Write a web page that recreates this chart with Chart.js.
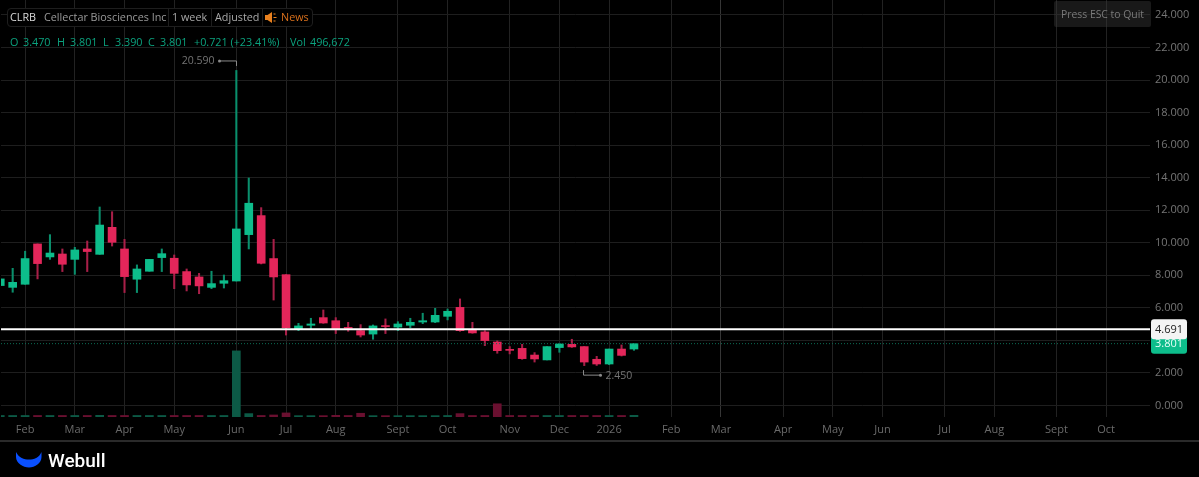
<!DOCTYPE html>
<html>
<head>
<meta charset="utf-8">
<title>CLRB weekly chart</title>
<script src="https://cdn.jsdelivr.net/npm/chart.js@4/dist/chart.umd.min.js"></script>
<style>
  html, body { margin: 0; padding: 0; background: #000; }
  body { width: 1199px; height: 477px; overflow: hidden; position: relative; font-family: "Open Sans", sans-serif; font-size: 10.8px; }
  canvas { position: absolute; left: 0; top: 0; }
  .t { position: absolute; white-space: nowrap; line-height: 16px; }
  #legendBox { position: absolute; left: 7px; top: 8px; width: 304px; height: 17px; border: 1px solid #1e1e1e; border-radius: 4px; background: #000; }
  .sep { position: absolute; top: 9px; width: 1px; height: 17px; background: #1e1e1e; }
  #esc { position: absolute; left: 1054px; top: 1px; width: 97px; height: 26px; background: rgba(60,60,60,0.42); border-radius: 2px; color: #7a7a7a; text-align: center; line-height: 26px; font-size: 10.4px; }
  #footerLine { position: absolute; left: 0; top: 440px; width: 1199px; height: 2px; background: #2a2a2a; }
  #brand { position: absolute; left: 48px; top: 447px; color: #fff; font-family: Roboto, sans-serif; font-size: 19px; font-weight: 500; line-height: 27px; }
</style>
</head>
<body>
<canvas id="chart" width="1199" height="477"></canvas>

<div id="legendBox"></div>
<div class="sep" style="left:168px"></div>
<div class="sep" style="left:211px"></div>
<div class="sep" style="left:262px"></div>
<span class="t" style="left:10px;top:9px;color:#d8d8d8">CLRB</span>
<span class="t" style="left:44px;top:9px;color:#9a9a9a">Cellectar Biosciences Inc</span>
<span class="t" style="left:172px;top:9px;color:#a8a8a8">1 week</span>
<span class="t" style="left:215px;top:9px;color:#a8a8a8">Adjusted</span>
<svg style="position:absolute;left:265px;top:12px" width="12" height="11" viewBox="0 0 12 11">
  <path d="M0 3h2.5L7 0v11L2.5 8H0z" fill="#e8801e"/>
  <path d="M8.5 2h2M8.500 5.500h3M8.500 9h2" stroke="#e8801e" stroke-width="1"/>
</svg>
<span class="t" style="left:281px;top:9px;color:#d9701c">News</span>

<span class="t" style="left:10px;top:34px;color:#0ba37f">O</span>
<span class="t" style="left:23px;top:34px;color:#0ba37f">3.470</span>
<span class="t" style="left:57px;top:34px;color:#0ba37f">H</span>
<span class="t" style="left:70px;top:34px;color:#0ba37f">3.801</span>
<span class="t" style="left:103px;top:34px;color:#0ba37f">L</span>
<span class="t" style="left:115px;top:34px;color:#0ba37f">3.390</span>
<span class="t" style="left:148px;top:34px;color:#0ba37f">C</span>
<span class="t" style="left:160px;top:34px;color:#0ba37f">3.801</span>
<span class="t" style="left:194px;top:34px;color:#0ba37f">+0.721 (+23.41%)</span>
<span class="t" style="left:290px;top:34px;color:#0ba37f">Vol</span>
<span class="t" style="left:310px;top:34px;color:#0ba37f">496,672</span>

<div id="esc">Press ESC to Quit</div>
<div id="footerLine"></div>
<svg style="position:absolute;left:16px;top:451px" width="26" height="17" viewBox="0 0 26 17">
  <path d="M0 1C3 7 8 8.500 13 8.500S23 7 25.500 1V6C25.500 12 19 16.500 13 16.500S0 12 0 6z" fill="#0a50ff"/>
</svg>
<div id="brand">Webull</div>

<script>
// weekly candles, oldest first
const opens = [7.37, 7.26, 7.45, 9.93, 9.13, 9.31, 8.98, 9.62, 9.29, 10.95, 9.62, 7.76, 8.25, 9.09, 9.05, 8.23, 7.90, 7.26, 7.51, 7.65, 10.50, 11.67, 9.03, 8.04, 4.70, 4.93, 5.40, 5.21, 4.80, 4.60, 4.39, 4.91, 4.82, 4.93, 5.13, 5.13, 5.48, 6.03, 4.64, 4.52, 3.90, 3.45, 3.51, 3.10, 2.80, 3.56, 3.76, 3.62, 2.84, 2.55, 3.47, 3.47];
const highs = [7.78, 8.43, 9.48, 9.93, 10.50, 9.62, 9.72, 10.11, 12.20, 11.91, 10.21, 8.64, 8.98, 9.62, 9.25, 8.39, 8.12, 8.25, 8.02, 20.59, 13.98, 12.16, 10.21, 8.04, 5.05, 5.36, 5.87, 5.40, 5.11, 4.97, 4.95, 5.32, 5.15, 5.36, 5.67, 5.97, 5.93, 6.55, 5.11, 4.60, 3.97, 3.62, 3.76, 3.25, 3.62, 3.82, 4.07, 3.62, 3.02, 3.47, 3.72, 3.801];
const lows = [7.37, 6.96, 7.45, 7.78, 8.98, 8.23, 8.06, 8.23, 9.29, 9.80, 6.94, 6.94, 8.25, 8.23, 7.18, 7.04, 6.87, 7.18, 7.22, 7.65, 9.62, 8.70, 6.48, 4.33, 4.60, 4.72, 5.05, 4.42, 4.56, 4.21, 4.07, 4.42, 4.60, 4.78, 5.03, 5.09, 5.26, 4.56, 4.44, 3.68, 3.21, 3.17, 2.84, 2.67, 2.80, 3.27, 3.57, 2.45, 2.46, 2.51, 3.04, 3.39];
const closes = [7.78, 7.57, 9.03, 8.72, 9.37, 8.68, 9.56, 9.46, 11.09, 10.03, 7.92, 8.39, 8.98, 9.33, 8.12, 7.41, 7.35, 7.49, 7.67, 10.85, 12.43, 8.74, 7.90, 4.78, 4.89, 5.01, 5.07, 4.70, 4.74, 4.33, 4.89, 4.85, 5.01, 5.11, 5.21, 5.54, 5.79, 4.60, 4.46, 3.99, 3.37, 3.39, 2.88, 2.86, 3.62, 3.78, 3.60, 2.67, 2.55, 3.47, 3.08, 3.801];
const volumes = [450000, 450000, 450000, 450000, 450000, 450000, 450000, 450000, 500000, 450000, 450000, 450000, 450000, 450000, 450000, 450000, 450000, 450000, 450000, 19500000, 1000000, 450000, 600000, 1200000, 400000, 400000, 400000, 500000, 450000, 1100000, 400000, 400000, 400000, 400000, 400000, 400000, 450000, 1000000, 450000, 450000, 3900000, 450000, 450000, 450000, 450000, 450000, 450000, 450000, 450000, 450000, 450000, 496672];

const monthTicks = [2, 6, 10, 14, 19, 23, 27, 32, 36, 41, 45, 49, 54, 58, 63, 67, 71, 76, 80, 85, 89];
const monthLabels = ['Feb', 'Mar', 'Apr', 'May', 'Jun', 'Jul', 'Aug', 'Sept', 'Oct', 'Nov', 'Dec', '2026', 'Feb', 'Mar', 'Apr', 'May', 'Jun', 'Jul', 'Aug', 'Sept', 'Oct'];
const priceTicks = [0, 2, 4, 6, 8, 10, 12, 14, 16, 18, 20, 22, 24];

const drawnLevel = 4.691;
const lastPrice = 3.801;
const highMark = { index: 19, price: 20.59, label: '20.590' };
const lowMark = { index: 47, price: 2.45, label: '2.450' };

const UP = '#0dbd8b';
const DOWN = '#e3265a';
const X_MIN = 0.06;
const X_MAX = 92.53;

const isUp = opens.map((o, i) => closes[i] >= o);
const pick = (up, down) => isUp.map(u => (u ? up : down));
const xy = values => values.map((y, x) => ({ x, y }));

// level boxes and the high/low callouts
const overlayPlugin = {
  id: 'overlay',
  afterDraw(chart) {
    const { ctx, scales } = chart;
    const yS = scales.y;
    const xS = scales.x;
    ctx.save();
    ctx.font = '11px "Open Sans"';
    ctx.textBaseline = 'middle';
    ctx.textAlign = 'center';

    const lastY = yS.getPixelForValue(lastPrice);
    ctx.fillStyle = UP;
    ctx.beginPath();
    ctx.roundRect(1151, lastY - 10, 36, 20, 3);
    ctx.fill();
    ctx.fillStyle = '#e8fff8';
    ctx.fillText(lastPrice.toFixed(3), 1169, lastY + 0.5);

    const levelY = yS.getPixelForValue(drawnLevel);
    ctx.fillStyle = '#f4f4f4';
    ctx.beginPath();
    ctx.roundRect(1151, levelY - 10, 36, 20, 3);
    ctx.fill();
    ctx.fillStyle = '#222';
    ctx.fillText(drawnLevel.toFixed(3), 1169, levelY + 0.5);

    ctx.font = '10.5px "Open Sans"';
    ctx.strokeStyle = '#8a8a8a';
    ctx.fillStyle = '#8a8a8a';
    ctx.lineWidth = 1;

    const hx = Math.round(xS.getPixelForValue(highMark.index)) + 0.5;
    const hy = yS.getPixelForValue(highMark.price) - 9.5;
    ctx.beginPath();
    ctx.moveTo(hx, hy + 5);
    ctx.lineTo(hx, hy);
    ctx.lineTo(hx - 17, hy);
    ctx.stroke();
    ctx.beginPath();
    ctx.arc(hx - 17, hy, 1.5, 0, Math.PI * 2);
    ctx.fill();
    ctx.fillStyle = '#747474';
    ctx.textAlign = 'right';
    ctx.fillText(highMark.label, hx - 22, hy + 0.5);

    const lx = Math.round(xS.getPixelForValue(lowMark.index)) - 0.5;
    const ly = yS.getPixelForValue(lowMark.price) + 9.5;
    ctx.fillStyle = '#8a8a8a';
    ctx.beginPath();
    ctx.moveTo(lx, ly - 5);
    ctx.lineTo(lx, ly);
    ctx.lineTo(lx + 17, ly);
    ctx.stroke();
    ctx.beginPath();
    ctx.arc(lx + 17, ly, 1.5, 0, Math.PI * 2);
    ctx.fill();
    ctx.fillStyle = '#747474';
    ctx.textAlign = 'left';
    ctx.fillText(lowMark.label, lx + 22, ly + 0.5);
    ctx.restore();
  }
};

new Chart(document.getElementById('chart').getContext('2d'), {
  type: 'bar',
  plugins: [overlayPlugin],
  data: {
    datasets: [
      {
        type: 'line',
        data: [{ x: X_MIN, y: drawnLevel }, { x: X_MAX, y: drawnLevel }],
        borderColor: '#ffffff',
        borderWidth: 2,
        pointRadius: 0,
        order: 0
      },
      {
        type: 'line',
        data: [{ x: X_MIN, y: lastPrice }, { x: X_MAX, y: lastPrice }],
        borderColor: '#0b6d54',
        borderWidth: 1,
        borderDash: [1, 2],
        pointRadius: 0,
        order: 1
      },
      {
        data: opens.map((o, x) => ({ x, y: [o, closes[x]] })),
        backgroundColor: pick(UP, DOWN),
        barThickness: 8,
        grouped: false,
        order: 2
      },
      {
        data: lows.map((l, x) => ({ x, y: [l, highs[x]] })),
        backgroundColor: pick('#0a8f6c', '#a81f48'),
        barThickness: 1.4,
        grouped: false,
        order: 3
      },
      {
        data: xy(volumes),
        yAxisID: 'yVol',
        backgroundColor: pick('#0c5a46', '#6a1030'),
        barThickness: 8,
        grouped: false,
        order: 4
      }
    ]
  },
  options: {
    responsive: false,
    animation: false,
    devicePixelRatio: 1,
    events: [],
    layout: { padding: { left: 1 } },
    plugins: { legend: { display: false }, tooltip: { enabled: false } },
    scales: {
      x: {
        type: 'linear',
        offset: false,
        min: X_MIN,
        max: X_MAX,
        afterBuildTicks: axis => { axis.ticks = monthTicks.map(value => ({ value })); },
        afterFit: axis => { axis.height = 60; axis.paddingLeft = 0; axis.paddingRight = 0; },
        ticks: {
          color: '#6a6a6a',
          font: { family: 'Open Sans', size: 11 },
          padding: 6,
          autoSkip: false,
          maxRotation: 0,
          callback: value => monthLabels[monthTicks.indexOf(value)]
        },
        border: { display: false },
        grid: {
          offset: false, // bar charts default this to true, which moves lines off the month ticks
          // the March 2026 line is lit brighter in the reference
          color: ctx => (ctx.tick && ctx.tick.value === 58 ? '#363636' : '#222222'),
          drawTicks: false
        }
      },
      y: {
        position: 'right',
        min: -0.707,
        max: 24.92,
        afterBuildTicks: axis => { axis.ticks = priceTicks.map(value => ({ value })); },
        afterFit: axis => { axis.width = 49; axis.paddingTop = 0; axis.paddingBottom = 0; },
        ticks: {
          color: '#757575',
          font: { family: 'Open Sans', size: 11 },
          padding: 5,
          callback: value => value.toFixed(3)
        },
        border: { display: false },
        grid: { color: '#1e1e1e', drawTicks: false }
      },
      yVol: {
        display: false,
        min: 0,
        max: 123000000
      }
    }
  }
});
</script>
</body>
</html>
